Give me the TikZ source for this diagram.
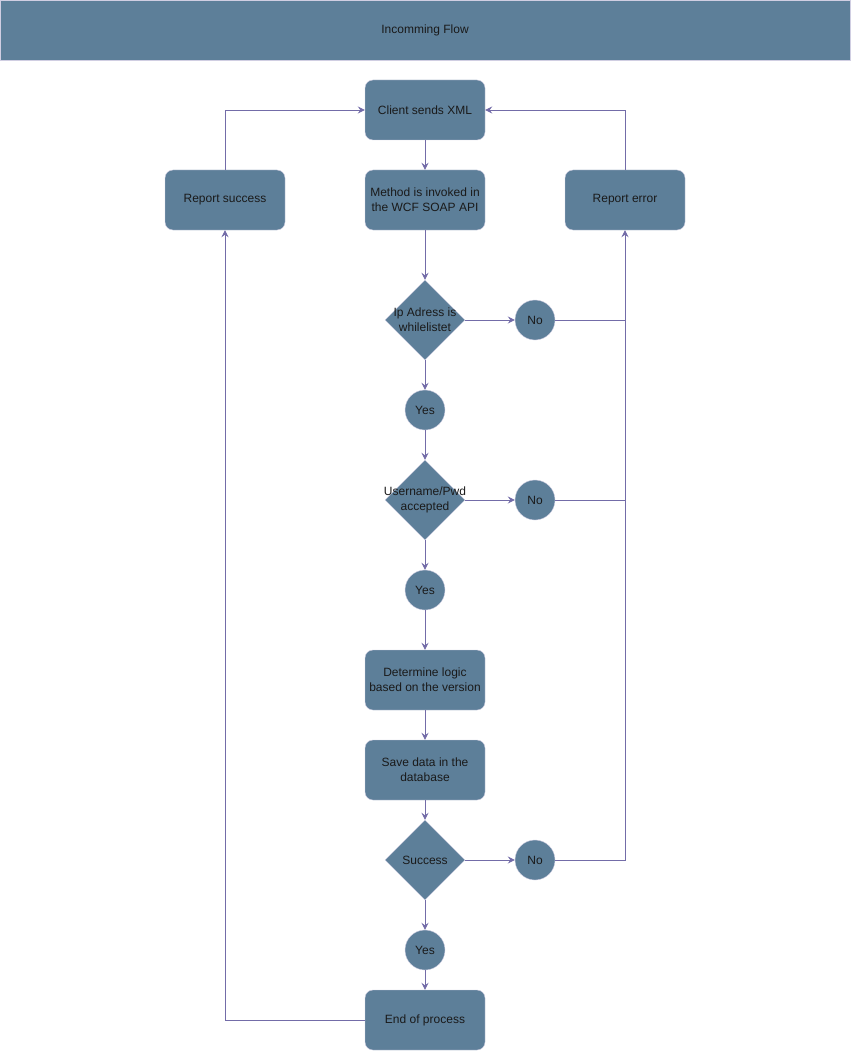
\documentclass[tikz,border=0pt]{standalone}
\usepackage{fontspec}
\setmainfont{Liberation Sans}
\usetikzlibrary{shapes.geometric,arrows.meta}

\definecolor{boxfill}{HTML}{5D7F99}
\definecolor{boxline}{HTML}{D0CEE2}
\definecolor{flowline}{HTML}{736CA8}
\definecolor{boxtext}{HTML}{1A1A1A}

\begin{document}
\begin{tikzpicture}
  [x=1pt,y=-1pt,font=\fontsize{12}{15}\selectfont,
   >={Stealth[length=7pt,width=7pt,inset=2.5pt]},
   every node/.style={fill=boxfill,draw=boxline,text=boxtext,align=center},
   stepbox/.style={rectangle,rounded corners=8pt,minimum width=120pt,minimum height=60pt,inner sep=2pt},
   choice/.style={diamond,minimum size=80pt,inner sep=0pt},
   answer/.style={circle,minimum size=40pt,inner sep=0pt},
   flow/.style={draw=flowline,line width=0.9pt},
   every label/.style={fill=none,draw=none,text=boxtext,align=center}]
\useasboundingbox (0,0) rectangle (851,1051);

\node [rectangle,minimum width=850pt,minimum height=60pt,inner sep=0pt] (title) at (425,30) {Incomming Flow};

\node [stepbox] (client)  at (425,110)  {Client sends XML};
\node [stepbox] (method)  at (425,200)  {Method is invoked in\\the WCF SOAP API};
\node [stepbox] (success) at (225,200)  {Report success};
\node [stepbox] (error)   at (625,200)  {Report error};
\node [choice,label={center:Ip Adress is\\whilelistet}] (ip) at (425,320) {};
\node [answer]  (no1)     at (535,320)  {No};
\node [answer]  (yes1)    at (425,410)  {Yes};
\node [choice,label={center:Username/Pwd\\accepted}] (login) at (425,500) {};
\node [answer]  (no2)     at (535,500)  {No};
\node [answer]  (yes2)    at (425,590)  {Yes};
\node [stepbox] (logic)   at (425,680)  {Determine logic\\based on the version};
\node [stepbox] (save)    at (425,770)  {Save data in the\\database};
\node [choice,label={center:Success}] (done) at (425,860) {};
\node [answer]  (no3)     at (535,860)  {No};
\node [answer]  (yes3)    at (425,950)  {Yes};
\node [stepbox] (finish)  at (425,1020) {End of process};

\draw [flow,->] (client) -- (method);
\draw [flow,->] (method) -- (ip);
\draw [flow,->] (ip) -- (no1);
\draw [flow,->] (ip) -- (yes1);
\draw [flow,->] (yes1) -- (login);
\draw [flow,->] (login) -- (no2);
\draw [flow,->] (login) -- (yes2);
\draw [flow,->] (yes2) -- (logic);
\draw [flow,->] (logic) -- (save);
\draw [flow,->] (save) -- (done);
\draw [flow,->] (done) -- (no3);
\draw [flow,->] (done) -- (yes3);
\draw [flow,->] (yes3) -- (finish);

\draw [flow] (no1) -- (no1 -| error)
             (no2) -- (no2 -| error);
\draw [flow,->] (no3) -| (error);
\draw [flow,->] (error) |- (client);
\draw [flow,->] (success) |- (client);
\draw [flow,->] (finish) -| (success);
\end{tikzpicture}
\end{document}
